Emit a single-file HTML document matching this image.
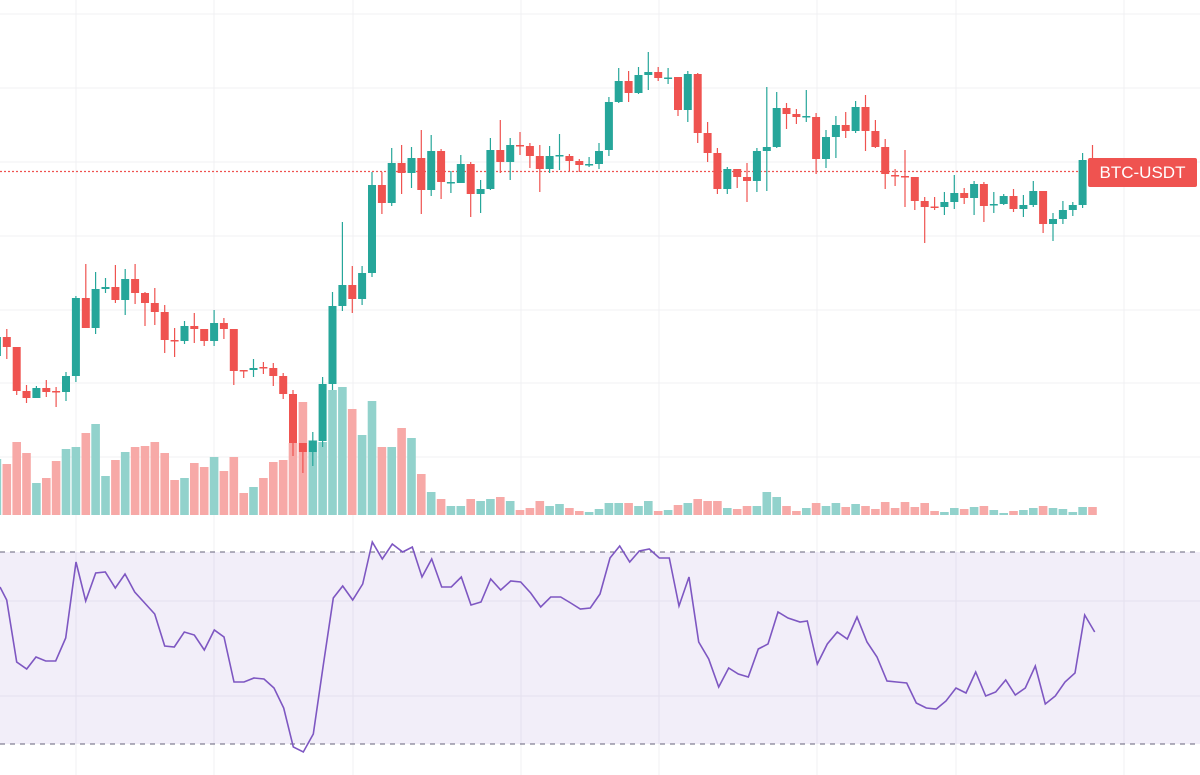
<!DOCTYPE html>
<html><head><meta charset="utf-8"><style>
html,body{margin:0;padding:0;background:#fff;width:1200px;height:775px;overflow:hidden}
svg{display:block}
.lbl{position:absolute;left:1088px;top:158px;width:109px;height:29px;background:#ef5350;color:#fff;font:17px "Liberation Sans",sans-serif;line-height:29px;text-align:center;border-radius:2px}
</style></head><body>
<svg id="s" width="1200" height="775" xmlns="http://www.w3.org/2000/svg"></svg>
<div class="lbl">BTC-USDT</div>
<script>
var C=[[356,337,333,360],[337,347,329,359],[347,391,347,395],[391,398,385,403],[398,388,386,398],[388,392,380,397],[391,392,387,407],[392,376,372,401],[376,298,296,382],[298,328,264,328],[328,289,272,334],[289,287,278,293],[287,300,265,303],[300,279,269,315],[279,293,264,304],[293,303,292,326],[303,312,288,325],[312,340,305,353],[340,340.8,328,357],[341,326,321,344],[326,329,313,343],[329,341,329,346],[341,323,310,346],[323,329,318,339],[329,371,329,385],[370,371,370,378],[370,368,359,377],[367,368,362,374],[368,376,363,386],[376,394,373,399],[394,443,390,456],[443,452,443,473],[452,441,432,466],[441,384,377,447],[384,306,292,390],[306,285,222,311],[285,299,266,313],[299,273,266,305],[273,185,172,277],[185,203,172,214],[203,163,148,206],[163,173,145,194],[173,158,147,188],[158,190,130,214],[190,151,135,196],[151,182,149,199],[183,182,171,193],[183,164,155,183],[164,194,162,217],[194,189,180,213],[189,150,138,190],[150,162,120,173],[162,145,138,180],[145,146,132,155],[146,156,143,168],[156,169,145,192],[169,156,146,173],[156,155,134,170],[156,161,154,172],[161,165,159,172],[165,164,157,167],[164,151,143,169],[150,102,97,156],[102,81,68,103],[81,93,71,102],[93,75,67,94],[75,72,52,90],[72,78,67,81],[78.5,77.5,68,84],[77,110,77,116],[110,74,71,122],[74,133,73,143],[133,153,122,162],[153,189,148,194],[189,169,167,194],[169,177,169,188],[177,181,163,202],[181,151,148,192],[151,147,87,191],[147,108,92,148],[108,114,103,129],[114,117,109,124],[117,116,90,122],[117,159,113,174],[159,137,130,168],[137,125,116,158],[125,131,112,138],[131,107,101,133],[107,131,95,151],[131,147,120,148],[147,174,139,189],[175,176,169,186],[176,177,150,207],[177,201,177,210],[201,207,197,243],[206.5,207.5,197,210],[207,202,192,215],[202,193,175,209],[193,198,188,204],[198,184,181,215],[184,206,182,222],[205,204,192,213],[204,196,194,205],[196,209,189,212],[209,205,195,217],[205,191,181,207],[191,224,191,233],[224,219,213,241],[219,210,201,224],[210,205,202,216],[205,160,153,208],[160,172,145,180]];
var V=[459,464,442,453,483,478,461,449,447,433,424,476,460,452,447,446,442,453,480,478,463,467,457,471,457,493,487,478,462,460,443,402,440,442,390,387,409,435,401,447,447,428,438,474,492,499,506,506,499,501,499,497,501,510,508,501,506,504,508,511,512,509,503,503,503,506,501,511,510,505,503,499,501,501,508,509,506,506,492,497,506,511,508,503,506,503,507,504,506,509,502,508,502,507,503,511,512,508,509,507,506,510,513,511,510,508,506,508,509,512,507,507];
var R=[[0,587],[6.7,600],[16.7,662],[26.7,669],[36,657],[45.7,661],[55.7,661],[65.7,638],[76,562],[85.7,601],[95.7,573],[105.3,572],[115.3,588],[125,574],[134.7,592],[144.7,603],[154.7,614],[164.7,646],[174.3,647],[184.3,632],[194.3,635],[204.3,650],[214.3,630],[224,637],[234,682],[244,682],[254,678],[264,679],[274,688],[283.7,708],[293.3,747],[303.3,752],[313.3,734],[323.3,665],[333.3,598],[342.7,586],[352.7,600],[362.7,584],[372.3,542],[382.3,559],[392.3,544],[402.7,552],[412.3,547],[422,577],[431.7,559],[441.7,587],[451.3,587],[461.3,577],[471,605],[481,602],[490.7,579],[500.7,590],[510.7,581],[520.7,582],[530.7,593],[540.7,607],[550.7,597],[560.7,597],[570.7,603],[580.3,609],[590.3,608],[600,594],[610,558],[619.7,546],[629.7,562],[639.3,551],[649.3,549],[659.3,558],[669.3,558],[679,606],[689,577],[698.7,642],[708.7,659],[718.7,687],[728.7,668],[738.3,674],[748.3,677],[758.3,649],[768,644],[778,612],[788,618],[800,622],[807.3,621],[817.3,664],[827.3,644],[837.3,632],[847.3,639],[857,617],[867,642],[877,657],[887,681],[896.7,682],[906.7,683],[916.3,703],[926.3,708],[936.3,709],[946,701],[956,688],[966,693],[975.7,672],[985.7,696],[995.7,692],[1005.7,680],[1015.3,695],[1025.3,688],[1035.3,666],[1045.3,704],[1055.3,696],[1065,682],[1075,673],[1084.7,615],[1094.7,632]];
var h='';
var G='#f0f0f3';
[14,88,162,236,310,383,457,601,696].forEach(function(y){h+='<line x1="0" x2="1200" y1="'+y+'" y2="'+y+'" stroke="'+G+'" stroke-width="1"/>';});
[76,214,353,521,659,817,956,1124].forEach(function(x){h+='<line x1="'+x+'" x2="'+x+'" y1="0" y2="775" stroke="'+G+'" stroke-width="1"/>';});
h+='<rect x="0" y="552" width="1200" height="192" fill="#7e57c2" fill-opacity="0.1"/>';
h+='<line x1="0" x2="1200" y1="552" y2="552" stroke="#66637a" stroke-dasharray="5 5"/>';
h+='<line x1="0" x2="1200" y1="744" y2="744" stroke="#66637a" stroke-dasharray="5 5"/>';
for(var k=0;k<V.length;k++){var i=k-1,x=6.8+9.87*i,c=C[k];var up=c?c[1]<c[0]:true;
 h+='<rect x="'+(x-4.3).toFixed(1)+'" y="'+V[k]+'" width="8.6" height="'+(515-V[k])+'" fill="'+(up?'#92d2cc':'#f7a9a7')+'"/>';}
h+='<line x1="0" x2="1090" y1="171.5" y2="171.5" stroke="#ef5350" stroke-width="1.2" stroke-dasharray="2 2"/>';
for(var k=0;k<C.length;k++){var i=k-1,x=6.8+9.87*i,c=C[k];var up=c[1]<c[0];var col=up?'#26a69a':'#ef5350';
 var t=Math.min(c[0],c[1]),b=Math.max(c[0],c[1]);if(b-t<1.5){b=t+1.5;}
 h+='<line x1="'+x.toFixed(1)+'" x2="'+x.toFixed(1)+'" y1="'+c[2]+'" y2="'+c[3]+'" stroke="'+col+'" stroke-width="1.2"/>';
 h+='<rect x="'+(x-4).toFixed(1)+'" y="'+t+'" width="8" height="'+(b-t)+'" fill="'+col+'"/>';}
h+='<polyline fill="none" stroke="#7e57c2" stroke-width="1.6" points="'+R.map(function(p){return p[0]+','+p[1]}).join(' ')+'"/>';
document.getElementById('s').innerHTML=h;
</script>
</body></html>
